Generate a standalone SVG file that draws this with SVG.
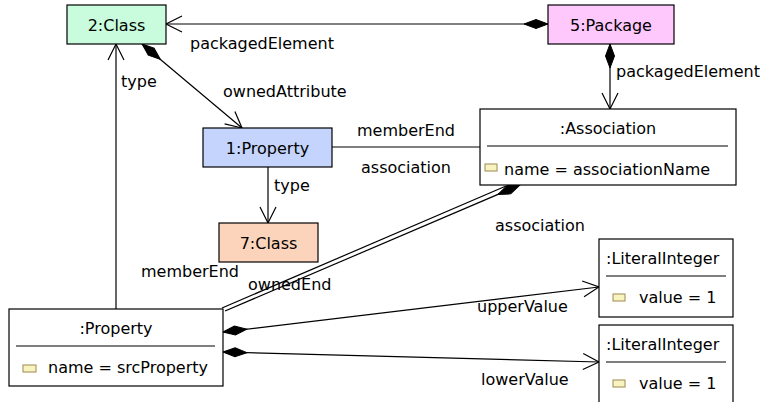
<svg xmlns="http://www.w3.org/2000/svg" width="764" height="402" viewBox="0 0 764 402">
<defs>
<marker id="arrow" markerUnits="userSpaceOnUse" markerWidth="40" markerHeight="40" refX="0" refY="0" viewBox="-20 -20 40 40" orient="auto" overflow="visible">
<path d="M-16,-8 L0,0 L-16,8" fill="none" stroke="#000" stroke-width="1.2"/>
</marker>
<marker id="diamond" markerUnits="userSpaceOnUse" markerWidth="60" markerHeight="60" refX="0" refY="0" viewBox="-30 -30 60 60" orient="auto" overflow="visible">
<path d="M0,0 L12,-4.5 L24,0 L12,4.5 Z" fill="#000" stroke="#000" stroke-width="1"/>
</marker>
</defs>
<style>
text{font-family:"DejaVu Sans",Verdana,sans-serif;font-size:16px;fill:#000}
.box{stroke:#000;stroke-width:1.2}
.c{text-anchor:middle}
.conn{fill:none;stroke:#000;stroke-width:1.2}
.sep{stroke:#000;stroke-width:1.2}
.icon{fill:#f8f4c0;stroke:#a08850;stroke-width:1}
</style>
<rect width="764" height="402" fill="#fff"/>
<g id="connectors">
<path class="conn" d="M548,24 L166,24" marker-start="url(#diamond)" marker-end="url(#arrow)"/>
<path class="conn" d="M142,44 L242,128" marker-start="url(#diamond)" marker-end="url(#arrow)"/>
<path class="conn" d="M610,44 L610,109" marker-start="url(#diamond)" marker-end="url(#arrow)"/>
<path class="conn" d="M332,147 L480,147"/>
<path class="conn" d="M268,167 L268,223" marker-end="url(#arrow)"/>
<path class="conn" d="M116,309 L116,44" marker-end="url(#arrow)"/>
<path class="conn" d="M506,186 L222,308"/>
<path class="conn" d="M520,185 L225,311" marker-start="url(#diamond)"/>
<path class="conn" d="M223,332 L599,287" marker-start="url(#diamond)" marker-end="url(#arrow)"/>
<path class="conn" d="M223,352 L599,362" marker-start="url(#diamond)" marker-end="url(#arrow)"/>
<text x="190" y="49">packagedElement</text>
<text x="616" y="77">packagedElement</text>
<text x="121" y="87">type</text>
<text x="223" y="97">ownedAttribute</text>
<text x="357" y="136">memberEnd</text>
<text x="361" y="173">association</text>
<text x="274" y="191">type</text>
<text x="495" y="231">association</text>
<text x="141" y="277">memberEnd</text>
<text x="248" y="290">ownedEnd</text>
<text x="477" y="312">upperValue</text>
<text x="481" y="385">lowerValue</text>
</g>
<g id="class2">
<rect class="box" x="67" y="5" width="99" height="39" fill="#c8fcdc"/>
<text class="c" x="116.5" y="31">2:Class</text>
</g>
<g id="package5">
<rect class="box" x="548" y="5" width="126" height="39" fill="#ffc8fc"/>
<text class="c" x="611" y="31">5:Package</text>
</g>
<g id="association">
<rect class="box" x="480" y="109" width="256" height="76" fill="#fff"/>
<text class="c" x="608" y="134">:Association</text>
<line class="sep" x1="487" y1="146" x2="728" y2="146"/>
<rect class="icon" x="485" y="164" width="12" height="7"/>
<text x="504" y="175">name = associationName</text>
</g>
<g id="property1">
<rect class="box" x="203" y="128" width="129" height="39" fill="#c4d4fc"/>
<text class="c" x="267.5" y="154">1:Property</text>
</g>
<g id="class7">
<rect class="box" x="219" y="223" width="99" height="39" fill="#fcd4bc"/>
<text class="c" x="268.5" y="249">7:Class</text>
</g>
<g id="property">
<rect class="box" x="9" y="309" width="214" height="77" fill="#fff"/>
<text class="c" x="116" y="334">:Property</text>
<line class="sep" x1="16" y1="346" x2="215" y2="346"/>
<rect class="icon" x="23" y="365" width="13" height="7"/>
<text x="48" y="373">name = srcProperty</text>
</g>
<g id="literal1">
<rect class="box" x="599" y="239" width="134" height="78" fill="#fff"/>
<text x="606" y="264">:LiteralInteger</text>
<line class="sep" x1="606" y1="276" x2="726" y2="276"/>
<rect class="icon" x="613" y="294" width="12" height="7"/>
<text x="639" y="303">value = 1</text>
</g>
<g id="literal2">
<rect class="box" x="599" y="325" width="134" height="80" fill="#fff"/>
<text x="606" y="350">:LiteralInteger</text>
<line class="sep" x1="606" y1="362" x2="726" y2="362"/>
<rect class="icon" x="613" y="380" width="12" height="7"/>
<text x="639" y="389">value = 1</text>
</g>
</svg>
